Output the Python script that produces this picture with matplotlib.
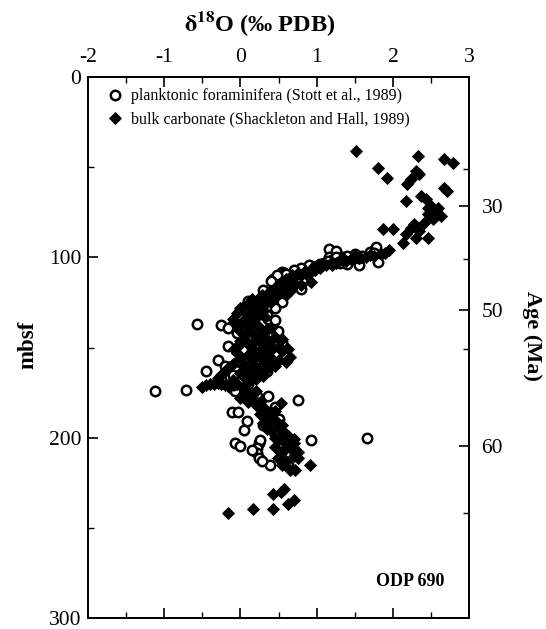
"""
ODP 690 oxygen isotope record: planktonic foraminifera and bulk carbonate
plotted against depth (mbsf) with an age axis on the right.
"""
import matplotlib
matplotlib.use('Agg')
import matplotlib.pyplot as plt

# planktonic foraminifera (Stott et al., 1989): d18O, depth (mbsf)
foram_d18o = [1.16, 1.16, 1.78, 1.80, 1.70, 1.60, 1.50, 1.45, 1.35, 1.30,
              1.20, 1.10, 1.00, 0.95, 0.85, 0.75, 0.65, 0.55, 0.43, 0.57,
              0.79, 0.29, 0.30, 0.55, -0.57, -0.26, -0.17, -0.03, 0.49, 0.36,
              0.30, -0.16, 0.20, 0.35, 0.45, 0.05, 0.40, 0.15, -0.30, -0.45,
              0.00, 0.30, -0.10, -0.26, 0.10, -1.12, -0.72, -0.07, 0.76, 0.22,
              0.36, -0.11, -0.03, 0.09, 0.50, 0.92, 1.66, -0.07, 0.00, 0.24,
              0.26, 0.22, 0.22, 0.24, 0.39, 0.62, 1.40, 1.55, 1.25,
              1.75, 1.55, 1.40, 1.25, 1.15, 1.05, 0.90, 0.80, 0.70, 0.60,
              0.48, 0.40, 0.10, 0.45, 0.00, -0.05, 0.25, 0.55, 0.10, -0.20,
              0.35, -0.10, 0.15, 0.45, 0.30, 0.05, 0.45, 0.15, 0.28]
foram_depth = [95.1, 99.6, 94.0, 102.4, 97.0, 99.0, 98.0, 101.0, 100.0, 103.0,
               101.5, 103.0, 105.0, 106.5, 107.0, 109.0, 111.0, 108.0, 111.9, 108.6,
               117.5, 120.9, 118.0, 125.0, 137.1, 137.7, 139.3, 137.1, 141.0, 134.3,
               144.9, 148.9, 128.0, 132.0, 135.0, 146.0, 150.0, 152.0, 156.7, 162.8,
               158.0, 160.0, 165.0, 167.3, 170.0, 174.0, 173.5, 174.0, 179.1, 176.8,
               176.8, 185.8, 185.8, 190.8, 189.7, 201.5, 200.3, 203.1, 204.8, 203.1,
               201.5, 205.9, 208.7, 211.5, 215.4, 215.4, 103.5, 104.0, 96.5,
               97.5, 100.5, 99.0, 100.0, 102.0, 103.5, 104.5, 106.0, 107.0, 109.5,
               110.0, 113.0, 124.0, 128.0, 133.0, 142.0, 145.0, 147.0, 155.0, 160.0,
               163.0, 171.0, 177.0, 183.0, 193.0, 196.0, 198.0, 207.0, 213.0]

# bulk carbonate (Shackleton and Hall, 1989): d18O, depth (mbsf)
bulk_d18o = [1.51, 1.80, 1.92, 2.33, 2.67, 2.79, 2.30, 2.34, 2.24, 2.18,
             2.67, 2.71, 2.37, 2.43, 2.17, 2.50, 2.59, 2.46, 2.54, 2.46,
             2.63, 2.53, 2.41, 2.28, 2.24, 2.34, 2.46, 2.30, 2.17, 2.13,
             1.87, 2.00,
             1.95, 1.85, 1.75, 1.65, 1.55, 1.45, 1.38, 1.30, 1.25, 1.20,
             1.12, 1.05, 0.98, 0.92, 0.86, 0.80, 0.92, 0.79,
             0.55, 0.45, 0.66, 0.38, 0.50, 0.60, 0.30, 0.42, 0.20, 0.35,
             0.10, 0.25, 0.00, 0.18, 0.30, -0.05, 0.10, 0.22, -0.10, 0.05, 0.15,
             -0.05, 0.10, 0.25, 0.35, 0.00, 0.15, 0.30, 0.45, 0.05, 0.20, 0.38,
             0.00, 0.12, 0.28, 0.42, 0.55, -0.05, 0.10, 0.25, 0.40, 0.50, 0.60,
             -0.10, 0.05, 0.20, 0.35, -0.20, 0.00, 0.15, 0.30, -0.30, -0.10, 0.10,
             -0.50, -0.45, -0.40, -0.35, -0.30, -0.25, -0.20, -0.15, 0.05, 0.20, 0.10,
             0.07, 0.15, 0.25, 0.53, 0.20, 0.30, 0.40, 0.35, 0.45, 0.30, 0.50, 0.40,
             0.55, 0.62, 0.70, 0.50, 0.66, 0.75, 0.76, 0.53, 0.49, 0.55, 0.72, 0.91,
             0.60, 0.45,
             0.57, 0.43, 0.53, 0.70, 0.62, 0.43, 0.17, -0.16,
             1.90, 1.70, 1.50, 1.35, 1.20, 1.05, 0.95, 0.85, 0.75, 0.68,
             0.60, 0.70, 0.50,
             0.62, 0.48, 0.28, 0.15, 0.40, 0.05, 0.28, -0.02, 0.15, 0.32,
             -0.08, 0.22, 0.40, 0.08, 0.30, 0.55, 0.00, 0.30, 0.50, 0.62,
             -0.08, 0.20, 0.35, 0.65, 0.00, 0.15, 0.32, 0.45, -0.15, 0.10,
             0.25, -0.25, 0.05, 0.20, -0.05, 0.00, 0.10, 0.30, 0.45, 0.25,
             0.40, 0.55, 0.35, 0.60, 0.45, 0.70, 0.58, 0.65, 0.70, 0.60, 0.65]
bulk_depth = [40.9, 50.4, 56.0, 43.6, 45.3, 47.6, 52.0, 53.7, 56.5, 59.3,
              61.6, 63.2, 66.0, 67.7, 68.8, 71.6, 72.7, 72.7, 75.5, 76.1,
              77.2, 78.9, 81.1, 81.7, 83.9, 85.6, 89.5, 89.5, 87.3, 92.3,
              84.5, 84.5,
              96.0, 98.0, 99.0, 100.0, 100.5, 101.0, 102.0, 101.5, 103.0, 104.0,
              104.5, 106.0, 107.0, 108.0, 109.0, 110.0, 113.6, 115.3,
              116, 117, 118, 119, 120, 121, 122, 123, 124, 125,
              126, 127, 128, 129, 130, 131, 132, 133, 134, 135, 136,
              137, 138, 139, 140, 141, 142, 143, 144, 145, 146, 147,
              148, 149, 150, 151, 152, 153, 154, 155, 156, 157, 158,
              159, 160, 161, 162, 163, 164, 165, 166, 167, 168, 169,
              172, 171, 170.5, 170, 169.5, 170, 171, 172, 173, 174, 175,
              176, 178, 180, 180.7, 182, 184, 186, 188, 190, 192, 194, 196,
              197, 199.2, 203, 201, 204, 208, 211.5, 208.7, 211.5, 215.4, 217.7, 215.4,
              206, 205,
              228.3, 231.1, 230.0, 234.5, 236.7, 239.5, 239.5, 241.7,
              97.5, 98.5, 99.5, 100.5, 102.5, 104.0, 105.5, 107.5, 108.5, 110.0,
              112.0, 114.0, 114.5,
              117.0, 119.0, 121.0, 123.0, 124.5, 127.0, 128.5, 130.0, 131.5, 133.0,
              136.0, 137.5, 139.0, 141.5, 142.5, 145.0, 146.5, 148.0, 149.5, 151.0,
              151.0, 152.5, 153.5, 155.0, 156.0, 157.5, 158.5, 160.0, 161.0, 162.5,
              164.0, 165.5, 166.5, 167.5, 170.0, 178.0, 180.0, 183.0, 185.0, 187.0,
              191.0, 193.0, 195.0, 198.0, 200.0, 201.0, 203.0, 206.0, 210.0, 213.0, 218.0]

# right-hand age axis: depth of each age tick
age_labels = ['30', '50', '60']
age_depths = [71.6, 129.3, 204.8]
age_minor_depths = [50.9, 100.7, 151.0, 242.0]

plt.rcParams['font.family'] = ['Liberation Serif', 'DejaVu Serif']
plt.rcParams['mathtext.fontset'] = 'stix'
plt.rcParams['axes.unicode_minus'] = False

fig = plt.figure(figsize=(5.46, 6.29), dpi=100)
ax = fig.add_axes([0.1612, 0.0175, 0.698, 0.860])

ax.plot(foram_d18o, foram_depth, 'o', mfc='white', mec='black', ms=6.8, mew=1.8,
        label='planktonic foraminifera (Stott et al., 1989)', zorder=2)
ax.plot(bulk_d18o, bulk_depth, 'D', mfc='black', mec='black', ms=6.2, mew=0.6,
        label='bulk carbonate (Shackleton and Hall, 1989)', zorder=3)

ax.set_xlim(-2, 3)
ax.set_ylim(300, 0)
ax.set_xticks([-2, -1, 0, 1, 2, 3])
ax.set_xticks([-1.5, -0.5, 0.5, 1.5, 2.5], minor=True)
ax.set_yticks([0, 100, 200, 300])
ax.set_yticks([50, 150, 250], minor=True)
ax.xaxis.tick_top()
ax.tick_params(axis='x', which='both', direction='in', top=True, bottom=True,
               labeltop=True, labelbottom=False, labelsize=15.5, pad=7)
ax.tick_params(axis='y', which='both', direction='in', left=True, right=False,
               labelsize=15.5, pad=5)
ax.tick_params(which='major', length=7, width=1.2)
ax.tick_params(which='minor', length=4, width=1.0)
for s in ax.spines.values():
    s.set_linewidth(1.4)

ax2 = ax.twinx()
ax2.set_ylim(300, 0)
ax2.set_yticks(age_depths)
ax2.set_yticklabels(age_labels)
ax2.set_yticks(age_minor_depths, minor=True)
ax2.tick_params(axis='y', which='both', direction='in', labelsize=15.5, pad=9)
ax2.tick_params(which='major', length=7, width=1.2)
ax2.tick_params(which='minor', length=4, width=1.0)
for s in ax2.spines.values():
    s.set_linewidth(1.4)

leg = ax.legend(loc='upper left', frameon=False, fontsize=11.5, handletextpad=0.5,
                handlelength=1.0, borderaxespad=0.3, labelspacing=0.45,
                bbox_to_anchor=(0.02, 1.0))

fig.text(0.476, 0.963, r'$\mathbf{\delta^{18}}$O (‰ PDB)', ha='center', va='center',
         fontsize=17.5, fontweight='bold')
fig.text(0.052, 0.452, 'mbsf', rotation=90, ha='center', va='center',
         fontsize=16.5, fontweight='bold')
fig.text(0.974, 0.466, 'Age (Ma)', rotation=-90, ha='center', va='center',
         fontsize=16, fontweight='bold')
ax.text(0.935, 0.068, 'ODP 690', transform=ax.transAxes, ha='right', va='center',
        fontsize=13, fontweight='bold')

plt.savefig('out.png', dpi=100)
plt.close(fig)
